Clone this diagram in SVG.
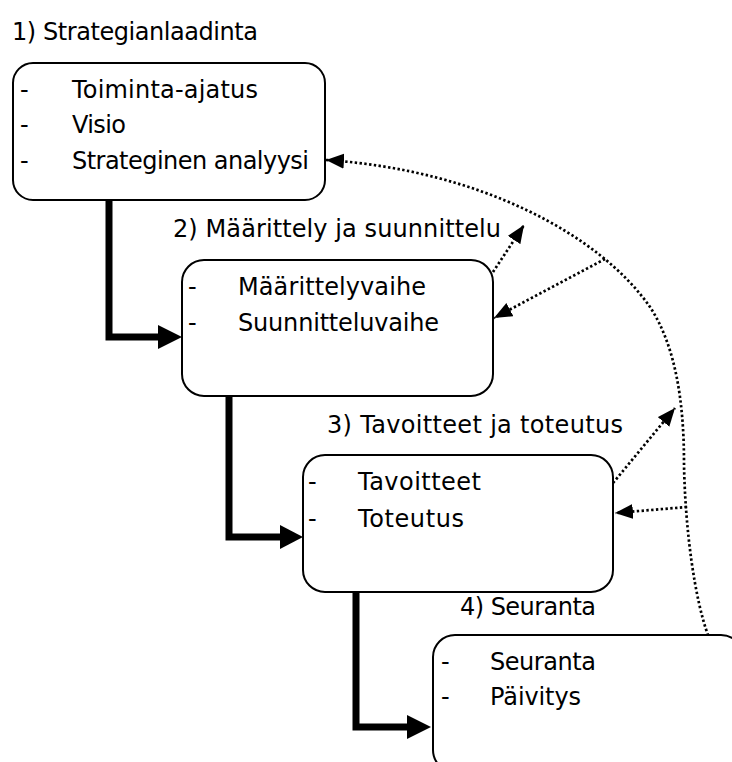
<svg xmlns="http://www.w3.org/2000/svg" width="732" height="762" viewBox="0 0 732 762">
<style>
  text { font-family: "DejaVu Sans", Verdana, sans-serif; font-size: 24px; fill: #000; }
  .box { fill: #fff; stroke: #000; stroke-width: 2; }
  .thick { fill: none; stroke: #000; stroke-width: 7; stroke-linejoin: miter; }
  .head { fill: #000; stroke: none; }
  .dot { fill: none; stroke: #000; stroke-width: 2.7; stroke-dasharray: 2.4 2.4; }
</style>
<defs>
  <marker id="dh" markerUnits="userSpaceOnUse" markerWidth="19" markerHeight="16" refX="18" refY="7.5" orient="auto-start-reverse">
    <path d="M0,0 L18,7.5 L0,15 z" fill="#000"/>
  </marker>
</defs>
<rect width="732" height="762" fill="#fff"/>

<g id="connectors">
  <path class="thick" d="M109,199 V337 H162"/>
  <polygon class="head" points="158,325 182,337 158,349"/>
  <path class="thick" d="M229,395 V537 H283"/>
  <polygon class="head" points="280,525 303,537 280,549"/>
  <path class="thick" d="M356,588 V727 H410"/>
  <polygon class="head" points="407,715 431,727 407,739"/>

  <path class="dot" marker-start="url(#dh)" d="M326,160 C480,170 600,235 650,307 C675,345 684,400 684,463 C685,530 695,600 708,635"/>
  <path class="dot" marker-end="url(#dh)" d="M493,272 L524,225"/>
  <path class="dot" marker-end="url(#dh)" d="M605,259 L494,318"/>
  <path class="dot" marker-end="url(#dh)" d="M613,483 L675,408"/>
  <path class="dot" marker-end="url(#dh)" d="M687,507 L615,513"/>
</g>

<g id="node1">
  <text x="12" y="40" textLength="246">1) Strategianlaadinta</text>
  <rect class="box" x="13" y="63" width="312" height="137" rx="20"/>
  <text x="20" y="97.5">-</text>
  <text x="72" y="97.5" textLength="186">Toiminta-ajatus</text>
  <text x="20" y="133">-</text>
  <text x="72" y="133" textLength="54">Visio</text>
  <text x="20" y="168.5">-</text>
  <text x="72" y="168.5" textLength="237">Strateginen analyysi</text>
</g>

<g id="node2">
  <text x="173" y="237" textLength="328">2) Määrittely ja suunnittelu</text>
  <rect class="box" x="182" y="260" width="311" height="136" rx="22"/>
  <text x="188" y="295">-</text>
  <text x="238" y="295" textLength="188">Määrittelyvaihe</text>
  <text x="188" y="331">-</text>
  <text x="238" y="331" textLength="201">Suunnitteluvaihe</text>
</g>

<g id="node3">
  <text x="327" y="433" textLength="296">3) Tavoitteet ja toteutus</text>
  <rect class="box" x="303" y="455" width="310" height="137" rx="22"/>
  <text x="308" y="490">-</text>
  <text x="358" y="490" textLength="123">Tavoitteet</text>
  <text x="308" y="526.5">-</text>
  <text x="358" y="526.5" textLength="106">Toteutus</text>
</g>

<g id="node4">
  <text x="460" y="615" textLength="136">4) Seuranta</text>
  <rect class="box" x="433" y="635" width="310" height="137" rx="22"/>
  <text x="441" y="670">-</text>
  <text x="490" y="670" textLength="106">Seuranta</text>
  <text x="441" y="705">-</text>
  <text x="490" y="705" textLength="91">Päivitys</text>
</g>
</svg>
